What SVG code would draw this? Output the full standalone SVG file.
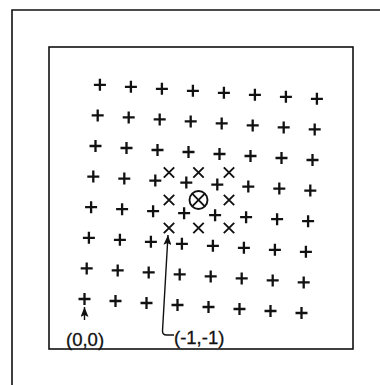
<svg xmlns="http://www.w3.org/2000/svg" xmlns:xlink="http://www.w3.org/1999/xlink" width="380" height="385" viewBox="0 0 380 385">
<style>
.frame{fill:none;stroke:#111;stroke-width:1.6}
.sym{fill:none;stroke:#111;stroke-width:2.3;stroke-linecap:butt}
.xs{fill:none;stroke:#111;stroke-width:1.9}
.conn{fill:none;stroke:#111;stroke-width:1.4}
.lbl{font-family:"Liberation Sans",Arial,sans-serif;font-size:18.5px;fill:#111;stroke:#111;stroke-width:0.3}
</style>
<defs>
<path id="plus" class="sym" d="M-6 0H6M0 -6V6"/>
<path id="cross" class="xs" d="M-5.2 -5.2L5.2 5.2M-5.2 5.2L5.2 -5.2"/>
<marker id="ah" viewBox="0 0 10 8" refX="10" refY="4" markerWidth="10" markerHeight="8" markerUnits="userSpaceOnUse" orient="auto">
<path d="M0 0L10 4L0 8L2 4z" fill="#111"/>
</marker>
</defs>
<rect width="380" height="385" fill="#fff"/>
<g id="frames">
<path class="frame" d="M12 385V10H380"/>
<rect class="frame" x="49" y="47" width="304" height="302"/>
</g>
<g id="plus-lattice">
<use href="#plus" x="84.5" y="299"/><use href="#plus" x="115.5" y="301"/><use href="#plus" x="146.5" y="303"/><use href="#plus" x="177.5" y="305"/><use href="#plus" x="208.5" y="307"/><use href="#plus" x="239.5" y="309"/><use href="#plus" x="270.5" y="311"/><use href="#plus" x="301.5" y="313"/>
<use href="#plus" x="86.7" y="268.4"/><use href="#plus" x="117.7" y="270.4"/><use href="#plus" x="148.7" y="272.4"/><use href="#plus" x="179.7" y="274.4"/><use href="#plus" x="210.7" y="276.4"/><use href="#plus" x="241.7" y="278.4"/><use href="#plus" x="272.7" y="280.4"/><use href="#plus" x="303.7" y="282.4"/>
<use href="#plus" x="88.9" y="237.8"/><use href="#plus" x="119.9" y="239.8"/><use href="#plus" x="150.9" y="241.8"/><use href="#plus" x="181.9" y="243.8"/><use href="#plus" x="212.9" y="245.8"/><use href="#plus" x="243.9" y="247.8"/><use href="#plus" x="274.9" y="249.8"/><use href="#plus" x="305.9" y="251.8"/>
<use href="#plus" x="91.1" y="207.2"/><use href="#plus" x="122.1" y="209.2"/><use href="#plus" x="153.1" y="211.2"/><use href="#plus" x="184.1" y="213.2"/><use href="#plus" x="215.1" y="215.2"/><use href="#plus" x="246.1" y="217.2"/><use href="#plus" x="277.1" y="219.2"/><use href="#plus" x="308.1" y="221.2"/>
<use href="#plus" x="93.3" y="176.6"/><use href="#plus" x="124.3" y="178.6"/><use href="#plus" x="155.3" y="180.6"/><use href="#plus" x="186.3" y="182.6"/><use href="#plus" x="217.3" y="184.6"/><use href="#plus" x="248.3" y="186.6"/><use href="#plus" x="279.3" y="188.6"/><use href="#plus" x="310.3" y="190.6"/>
<use href="#plus" x="95.5" y="146"/><use href="#plus" x="126.5" y="148"/><use href="#plus" x="157.5" y="150"/><use href="#plus" x="188.5" y="152"/><use href="#plus" x="219.5" y="154"/><use href="#plus" x="250.5" y="156"/><use href="#plus" x="281.5" y="158"/><use href="#plus" x="312.5" y="160"/>
<use href="#plus" x="97.7" y="115.4"/><use href="#plus" x="128.7" y="117.4"/><use href="#plus" x="159.7" y="119.4"/><use href="#plus" x="190.7" y="121.4"/><use href="#plus" x="221.7" y="123.4"/><use href="#plus" x="252.7" y="125.4"/><use href="#plus" x="283.7" y="127.4"/><use href="#plus" x="314.7" y="129.4"/>
<use href="#plus" x="99.9" y="84.8"/><use href="#plus" x="130.9" y="86.8"/><use href="#plus" x="161.9" y="88.8"/><use href="#plus" x="192.9" y="90.8"/><use href="#plus" x="223.9" y="92.8"/><use href="#plus" x="254.9" y="94.8"/><use href="#plus" x="285.9" y="96.8"/><use href="#plus" x="316.9" y="98.8"/>
</g>
<g id="cross-lattice">
<use href="#cross" x="169" y="172.5"/><use href="#cross" x="198.5" y="172.5"/><use href="#cross" x="229" y="172.5"/>
<use href="#cross" x="169" y="200"/><use href="#cross" x="229" y="200"/>
<use href="#cross" x="169" y="228"/><use href="#cross" x="198.5" y="228"/><use href="#cross" x="229" y="228"/>
</g>
<g id="center">
<circle cx="198.5" cy="200" r="9" class="xs"/>
<path class="xs" d="M192.2 193.7L204.8 206.3M192.2 206.3L204.8 193.7"/>
</g>
<g id="connectors">
<path class="conn" d="M84.5 320V307" marker-end="url(#ah)"/>
<path class="conn" d="M174 335H166.5Q162.5 335 162.5 331L168 235" marker-end="url(#ah)"/>
</g>
<g id="labels">
<text class="lbl" x="66" y="346">(0,0)</text>
<text class="lbl" x="174" y="344">(-1,-1)</text>
</g>
</svg>
